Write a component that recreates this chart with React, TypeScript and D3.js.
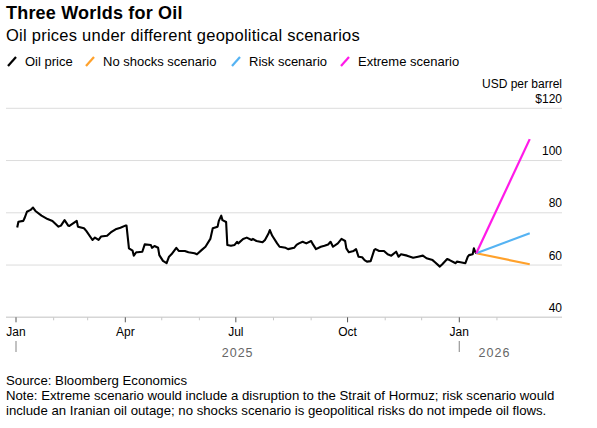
import React from 'react';
import * as d3 from 'd3';

// Brent price
const priceDates = [
  '2025-01-02', '2025-01-03', '2025-01-07', '2025-01-08', '2025-01-10', '2025-01-13', '2025-01-15', '2025-01-17',
  '2025-01-22', '2025-01-27', '2025-01-31', '2025-02-05', '2025-02-07', '2025-02-10', '2025-02-13', '2025-02-14',
  '2025-02-20', '2025-02-21', '2025-02-26', '2025-02-28', '2025-03-05', '2025-03-07', '2025-03-10', '2025-03-12',
  '2025-03-17', '2025-03-20', '2025-03-24', '2025-03-28', '2025-04-01', '2025-04-02', '2025-04-04', '2025-04-07',
  '2025-04-08', '2025-04-10', '2025-04-11', '2025-04-15', '2025-04-17', '2025-04-22', '2025-04-23', '2025-04-25',
  '2025-04-28', '2025-04-29', '2025-05-02', '2025-05-05', '2025-05-07', '2025-05-09', '2025-05-13', '2025-05-15',
  '2025-05-20', '2025-05-23', '2025-05-28', '2025-05-30', '2025-06-03', '2025-06-06', '2025-06-10', '2025-06-12',
  '2025-06-16', '2025-06-17', '2025-06-19', '2025-06-20', '2025-06-23', '2025-06-24', '2025-06-27', '2025-06-30',
  '2025-07-02', '2025-07-03', '2025-07-07', '2025-07-10', '2025-07-14', '2025-07-15', '2025-07-18', '2025-07-23',
  '2025-07-25', '2025-07-28', '2025-07-29', '2025-07-31', '2025-08-04', '2025-08-06', '2025-08-11', '2025-08-13',
  '2025-08-18', '2025-08-20', '2025-08-22', '2025-08-25', '2025-08-28', '2025-09-01', '2025-09-02', '2025-09-05',
  '2025-09-09', '2025-09-12', '2025-09-15', '2025-09-17', '2025-09-19', '2025-09-23', '2025-09-26', '2025-09-29',
  '2025-09-30', '2025-10-02', '2025-10-06', '2025-10-08', '2025-10-10', '2025-10-13', '2025-10-15', '2025-10-17',
  '2025-10-20', '2025-10-23', '2025-10-24', '2025-10-27', '2025-10-31', '2025-11-03', '2025-11-06', '2025-11-10',
  '2025-11-12', '2025-11-14', '2025-11-19', '2025-11-24', '2025-11-28', '2025-12-02', '2025-12-05', '2025-12-10',
  '2025-12-12', '2025-12-16', '2025-12-18', '2025-12-22', '2025-12-24', '2025-12-29', '2025-12-30', '2026-01-02',
  '2026-01-06', '2026-01-08', '2026-01-09', '2026-01-12', '2026-01-13', '2026-01-14', '2026-01-15',
];
const priceValues = [
  74.4, 76.6, 76.9, 77.9, 80.4, 81.1, 82.0, 80.7,
  78.9, 77.6, 76.9, 74.7, 75.1, 77.2, 75.1, 75.0,
  76.9, 74.7, 74.1, 73.0, 69.6, 70.5, 69.6, 70.9,
  71.2, 72.5, 73.7, 74.3, 75.1, 75.1, 66.4, 65.5,
  63.6, 64.9, 64.9, 65.1, 67.9, 67.7, 66.6, 67.3,
  66.6, 63.8, 61.6, 60.7, 63.2, 64.1, 66.6, 65.4,
  65.4, 64.9, 64.5, 64.1, 65.8, 67.0, 70.0, 74.1,
  74.7, 76.9, 78.9, 77.2, 76.5, 67.7, 67.4, 67.7,
  68.9, 68.3, 70.0, 70.5, 69.6, 70.0, 69.2, 68.7,
  69.6, 72.2, 73.4, 71.2, 68.3, 67.0, 66.6, 66.1,
  66.6, 67.7, 68.3, 68.9, 68.3, 69.2, 68.3, 66.1,
  67.0, 67.4, 67.9, 68.9, 67.0, 68.3, 70.0, 69.2,
  66.4, 64.9, 65.4, 66.1, 63.2, 63.0, 61.9, 61.3,
  61.5, 65.8, 66.1, 65.4, 65.4, 64.1, 63.6, 65.1,
  63.2, 64.1, 63.6, 62.8, 63.2, 63.6, 62.6, 61.9,
  61.1, 59.4, 60.3, 62.3, 61.9, 60.7, 61.3, 61.1,
  60.7, 63.2, 63.8, 64.1, 66.4, 65.1, 64.5,
];

// scenarios fan out from the last price to end of Feb 2026
const scenarioStart = '2026-01-15';
const scenarioEndDate = '2026-02-28';
const scenarioNames = ['No shocks scenario', 'Risk scenario', 'Extreme scenario'];
const scenarioEndValues = [60.3, 72.2, 108.2];
const scenarioColors = ['#ffa12b', '#55b3f3', '#ff1ae8'];

const legendLabels = ['Oil price', ...scenarioNames];
const legendColors = ['#000000', ...scenarioColors];

const yTicks = [40, 60, 80, 100, 120];
const quarterLabels = ['Jan', 'Apr', 'Jul', 'Oct', 'Jan'];
const quarterDates = ['2025-01-01', '2025-04-01', '2025-07-01', '2025-10-01', '2026-01-01'];
const yearLabels = ['2025', '2026'];

const W = 597;
const H = 428;
const FONT = '"Liberation Sans", Arial, Helvetica, sans-serif';

const parse = d3.utcParse('%Y-%m-%d');

const App: React.FC = () => {
  const x = d3.scaleUtc()
    .domain([parse('2025-01-01')!, parse('2026-01-01')!])
    .range([16, 459.3]);
  const y = d3.scaleLinear().domain([40, 120]).range([317.3, 108.3]);

  const gridLeft = 6;
  const gridRight = 562;

  const prices = priceDates.map((d, i) => ({ date: parse(d)!, value: priceValues[i] }));
  const line = d3.line<{ date: Date; value: number }>()
    .x(d => x(d.date))
    .y(d => y(d.value));

  const startVal = priceValues[priceValues.length - 1];
  const scenarios = scenarioEndValues.map(v => [
    { date: parse(scenarioStart)!, value: startVal },
    { date: parse(scenarioEndDate)!, value: v },
  ]);

  // monthly minor ticks up to the end of the forecast
  const months = d3.utcMonth.range(parse('2025-02-01')!, parse(scenarioEndDate)!)
    .filter(m => m.getUTCMonth() % 3 !== 0);

  // legend item x positions
  const legendX = [7, 85, 231, 340];

  const yearMid = [
    (x(parse('2025-01-01')!) + x(parse('2026-01-01')!)) / 2,
    (x(parse('2026-01-01')!) + x(parse(scenarioEndDate)!)) / 2,
  ];

  return (
    <svg width={W} height={H} style={{ position: 'absolute', left: 0, top: 0, background: '#fff' }}
      fontFamily={FONT}>
      <text x={6} y={18.5} fontSize={18} fontWeight="bold" letterSpacing={0.2} fill="#000">Three Worlds for Oil</text>
      <text x={6} y={41} fontSize={16.5} letterSpacing={0.25} fill="#000">Oil prices under different geopolitical scenarios</text>

      {legendLabels.map((l, i) => (
        <g key={l} transform={`translate(${legendX[i]},0)`}>
          <line x1={1} y1={66} x2={9} y2={57} stroke={legendColors[i]} strokeWidth={2.2} />
          <text x={18} y={66} fontSize={13} fill="#000">{l}</text>
        </g>
      ))}

      <text x={gridRight} y={88} fontSize={12} textAnchor="end" fill="#000">USD per barrel</text>

      {yTicks.map(t => (
        <g key={t}>
          <line x1={gridLeft} x2={gridRight} y1={y(t)} y2={y(t)}
            stroke={t === 40 ? '#d6d6d6' : '#dcdcdc'} strokeWidth={t === 40 ? 1.5 : 1} />
          <text x={gridRight} y={y(t) - 5.5} fontSize={12} textAnchor="end" fill="#000">
            {t === 120 ? `$${t}` : t}
          </text>
        </g>
      ))}

      {months.map(m => (
        <line key={m.toISOString()} x1={x(m)} x2={x(m)} y1={y(40)} y2={y(40) + 3} stroke="#c8c8c8" />
      ))}
      {quarterDates.map((d, i) => (
        <g key={d}>
          <line x1={x(parse(d)!)} x2={x(parse(d)!)} y1={y(40)} y2={y(40) + 5} stroke="#555" />
          <text x={x(parse(d)!)} y={336} fontSize={12} textAnchor="middle" fill="#000">{quarterLabels[i]}</text>
        </g>
      ))}
      {[quarterDates[0], quarterDates[4]].map(d => (
        <line key={d} x1={x(parse(d)!)} x2={x(parse(d)!)} y1={341} y2={352} stroke="#999" strokeWidth={1.2} />
      ))}
      {yearLabels.map((l, i) => (
        <text key={l} x={yearMid[i]} y={356.5} fontSize={12.5} textAnchor="middle" fill="#666"
          letterSpacing={1}>{l}</text>
      ))}

      <path d={line(prices)!} fill="none" stroke="#000" strokeWidth={2.1} strokeLinejoin="round" />
      {scenarios.map((s, i) => (
        <path key={scenarioNames[i]} d={line(s)!} fill="none" stroke={scenarioColors[i]} strokeWidth={2.2} />
      ))}

      <text x={6} y={385} fontSize={13.2} fill="#000">Source: Bloomberg Economics</text>
      <text x={6} y={400} fontSize={13.2} fill="#000">
        Note: Extreme scenario would include a disruption to the Strait of Hormuz; risk scenario would
      </text>
      <text x={6} y={415} fontSize={13.2} fill="#000">
        include an Iranian oil outage; no shocks scenario is geopolitical risks do not impede oil flows.
      </text>
    </svg>
  );
};

export default App;
